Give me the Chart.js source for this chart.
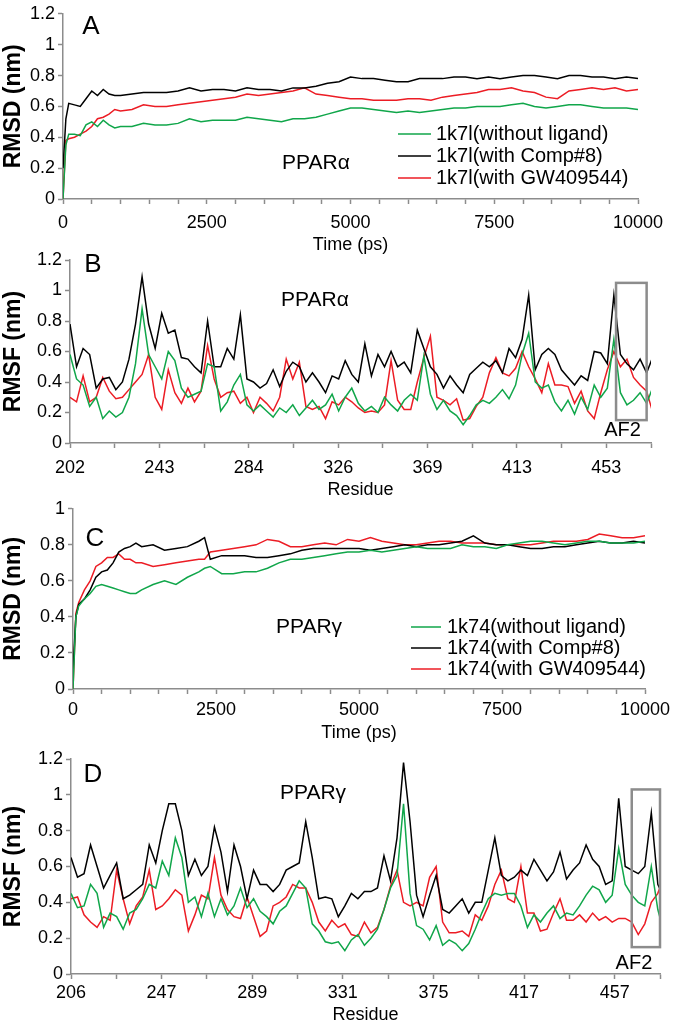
<!DOCTYPE html>
<html>
<head>
<meta charset="utf-8">
<script src="https://cdn.jsdelivr.net/npm/chart.js@4.4.0/dist/chart.umd.min.js"></script>
<style>
body { margin: 0; background: #fff; }
#wrap { position: relative; width: 683px; height: 1028px; }
canvas { position: absolute; left: 0; }
</style>
</head>
<body>
<div id="wrap">
<canvas id="chartA" width="683" height="256" style="top:0px"></canvas>
<canvas id="chartB" width="683" height="256" style="top:245px"></canvas>
<canvas id="chartC" width="683" height="249" style="top:495px"></canvas>
<canvas id="chartD" width="683" height="281" style="top:745px"></canvas>
</div>
<script>

// ==========================================
// Data
// ==========================================

const namesA = ["1k7l(without ligand)", "1k7l(with Comp#8)", "1k7l(with GW409544)"];
const namesC = ["1k74(without ligand)", "1k74(with Comp#8)", "1k74(with GW409544)"];

// RMSD PPARα (ps)
const timeA = [0,50,100,200,300,400,500,600,700,800,900,1000,
    1200,1400,1600,1800,2000,2200,2400,2600,2800,3000,3200,3400,3600,3800,4000,
    4200,4400,4600,4800,5000,5200,5400,5600,5800,6000,6200,6400,6600,6800,7000,
    7200,7400,7600,7800,8000,8200,8400,8600,8800,9000,9200,9400,9600,9800,10000];

const rmsdA_noLig = [0.00,0.35,0.42,0.42,0.41,0.48,0.50,0.47,0.51,0.48,0.46,0.47,
    0.47,0.49,0.48,0.48,0.49,0.52,0.50,0.51,0.51,0.51,0.53,0.52,0.51,0.50,0.52,
    0.52,0.53,0.55,0.57,0.59,0.59,0.58,0.57,0.56,0.57,0.56,0.57,0.58,0.59,0.59,
    0.60,0.60,0.60,0.61,0.62,0.60,0.59,0.60,0.61,0.61,0.60,0.59,0.59,0.59,0.58];

const rmsdA_comp8 = [0.20,0.52,0.62,0.61,0.60,0.65,0.70,0.67,0.71,0.68,0.67,0.67,
    0.68,0.69,0.69,0.69,0.70,0.72,0.70,0.71,0.71,0.70,0.72,0.71,0.71,0.70,0.72,
    0.72,0.73,0.75,0.76,0.79,0.78,0.78,0.77,0.76,0.76,0.78,0.78,0.78,0.79,0.79,
    0.78,0.79,0.78,0.79,0.80,0.80,0.79,0.78,0.80,0.80,0.79,0.79,0.78,0.79,0.78];

const rmsdA_gw = [0.00,0.38,0.39,0.40,0.42,0.44,0.47,0.52,0.53,0.55,0.58,0.57,
    0.58,0.61,0.60,0.60,0.61,0.62,0.63,0.64,0.65,0.66,0.68,0.67,0.68,0.69,0.70,
    0.72,0.68,0.67,0.66,0.65,0.65,0.64,0.64,0.64,0.65,0.65,0.64,0.66,0.67,0.68,
    0.69,0.71,0.71,0.72,0.70,0.69,0.66,0.65,0.70,0.71,0.72,0.71,0.72,0.70,0.71];

// RMSF PPARα, every 3rd residue from 202
const rmsfB_noLig = [0.58,0.42,0.38,0.24,0.30,0.16,0.21,0.17,0.20,0.30,
    0.52,0.88,0.58,0.50,0.42,0.60,0.54,0.36,0.30,0.32,
    0.34,0.52,0.50,0.21,0.27,0.38,0.45,0.25,0.21,0.25,
    0.21,0.17,0.23,0.20,0.25,0.18,0.23,0.28,0.22,0.25,
    0.32,0.21,0.30,0.36,0.26,0.21,0.24,0.20,0.30,0.25,
    0.21,0.28,0.32,0.28,0.57,0.32,0.22,0.28,0.21,0.18,
    0.12,0.18,0.25,0.28,0.26,0.30,0.35,0.29,0.38,0.58,
    0.72,0.40,0.36,0.38,0.27,0.21,0.28,0.19,0.30,0.22,
    0.38,0.30,0.36,0.68,0.33,0.25,0.28,0.33,0.26,0.37];

const rmsfB_comp8 = [0.78,0.50,0.62,0.58,0.36,0.42,0.43,0.35,0.40,0.55,
    0.78,1.09,0.78,0.62,0.85,0.72,0.74,0.56,0.55,0.50,
    0.46,0.80,0.50,0.50,0.62,0.55,0.84,0.42,0.40,0.36,
    0.39,0.48,0.37,0.47,0.53,0.50,0.40,0.46,0.40,0.33,
    0.44,0.42,0.54,0.45,0.40,0.65,0.44,0.58,0.50,0.60,
    0.50,0.53,0.46,0.74,0.62,0.50,0.45,0.36,0.44,0.38,
    0.33,0.45,0.49,0.53,0.50,0.54,0.46,0.62,0.56,0.68,
    0.97,0.48,0.58,0.62,0.58,0.48,0.43,0.38,0.44,0.41,
    0.60,0.59,0.52,0.97,0.58,0.52,0.48,0.55,0.46,0.57];

const rmsfB_gw = [0.30,0.27,0.44,0.27,0.30,0.43,0.34,0.29,0.30,0.35,
    0.40,0.45,0.58,0.30,0.22,0.48,0.33,0.26,0.36,0.27,
    0.34,0.64,0.42,0.30,0.33,0.34,0.26,0.30,0.20,0.30,
    0.26,0.21,0.30,0.55,0.42,0.53,0.24,0.22,0.24,0.16,
    0.27,0.25,0.30,0.27,0.23,0.20,0.21,0.20,0.25,0.54,
    0.28,0.22,0.22,0.40,0.56,0.70,0.30,0.28,0.25,0.29,
    0.15,0.16,0.24,0.30,0.46,0.56,0.46,0.44,0.49,0.60,
    0.50,0.42,0.33,0.52,0.38,0.38,0.37,0.26,0.34,0.21,
    0.16,0.33,0.48,0.60,0.50,0.55,0.43,0.38,0.34,0.19];

const residuesB = rmsfB_comp8.map((v, i) => 202 + 3 * i);
const labelsB = ["202", "", "243", "", "284", "", "326", "", "369", "", "413", "", "453", ""];

// RMSD PPARγ (ps)
const timeC = [0,50,100,200,300,400,500,600,700,800,900,1000,1100,1200,
    1400,1600,1800,2000,2200,2300,2400,
    2600,2800,3000,3200,3400,3600,3800,4000,4200,4400,4600,4800,5000,
    5200,5400,5600,5800,6000,6200,6400,6600,6800,7000,7200,7400,7600,7800,8000,
    8200,8400,8600,8800,9000,9200,9400,9600,9800,10000];

const rmsdC_noLig = [0.00,0.40,0.46,0.50,0.53,0.57,0.58,0.57,0.56,0.55,0.54,0.53,0.53,0.55,
    0.58,0.60,0.58,0.62,0.65,0.67,0.68,
    0.64,0.64,0.65,0.65,0.67,0.70,0.72,0.72,0.73,0.74,0.75,0.76,0.76,
    0.77,0.76,0.77,0.78,0.79,0.78,0.78,0.78,0.80,0.79,0.79,0.78,0.80,0.81,0.82,
    0.82,0.81,0.80,0.81,0.82,0.82,0.81,0.81,0.81,0.82];

const rmsdC_comp8 = [0.10,0.40,0.47,0.50,0.55,0.62,0.65,0.66,0.70,0.76,0.78,0.79,0.81,0.79,
    0.80,0.77,0.78,0.79,0.82,0.84,0.72,
    0.74,0.74,0.74,0.73,0.73,0.74,0.75,0.77,0.78,0.78,0.78,0.78,0.78,
    0.77,0.78,0.79,0.80,0.79,0.80,0.80,0.81,0.82,0.85,0.81,0.80,0.80,0.79,0.78,
    0.78,0.79,0.79,0.80,0.81,0.82,0.81,0.81,0.82,0.81];

const rmsdC_gw = [0.00,0.42,0.48,0.55,0.60,0.68,0.70,0.73,0.73,0.75,0.72,0.72,0.70,0.70,
    0.68,0.69,0.70,0.71,0.72,0.72,0.76,
    0.77,0.78,0.79,0.80,0.83,0.82,0.79,0.79,0.80,0.81,0.80,0.83,0.82,
    0.84,0.82,0.81,0.80,0.80,0.81,0.82,0.82,0.81,0.81,0.81,0.80,0.80,0.80,0.80,
    0.81,0.82,0.82,0.82,0.83,0.86,0.85,0.84,0.84,0.85];

// RMSF PPARγ, every 3rd residue from 206
const rmsfD_noLig = [0.45,0.37,0.38,0.50,0.45,0.26,0.34,0.32,0.25,0.34,
    0.36,0.42,0.50,0.48,0.63,0.55,0.76,0.65,0.40,0.43,
    0.32,0.45,0.32,0.42,0.33,0.38,0.48,0.37,0.42,0.35,
    0.32,0.28,0.35,0.38,0.45,0.52,0.48,0.28,0.24,0.18,
    0.17,0.18,0.13,0.19,0.22,0.16,0.20,0.25,0.36,0.48,
    0.55,0.95,0.45,0.27,0.25,0.19,0.27,0.16,0.19,0.17,
    0.13,0.17,0.25,0.34,0.42,0.45,0.44,0.45,0.45,0.38,
    0.26,0.33,0.29,0.34,0.38,0.31,0.34,0.33,0.38,0.44,
    0.49,0.47,0.40,0.44,0.70,0.50,0.44,0.40,0.38,0.60,
    0.36,0.22];

const rmsfD_comp8 = [0.65,0.54,0.56,0.72,0.60,0.48,0.55,0.62,0.42,0.44,
    0.47,0.50,0.72,0.62,0.80,0.95,0.95,0.80,0.55,0.64,
    0.55,0.60,0.82,0.68,0.46,0.72,0.60,0.42,0.58,0.50,
    0.50,0.46,0.50,0.58,0.60,0.62,0.85,0.65,0.42,0.43,
    0.42,0.32,0.38,0.45,0.42,0.46,0.46,0.48,0.66,0.52,
    0.76,1.18,0.85,0.44,0.32,0.44,0.55,0.36,0.34,0.38,
    0.42,0.34,0.40,0.40,0.58,0.76,0.55,0.52,0.54,0.58,
    0.55,0.64,0.58,0.52,0.57,0.68,0.53,0.58,0.62,0.72,
    0.64,0.60,0.50,0.52,0.98,0.60,0.58,0.56,0.60,0.90,
    0.50,0.42];

const rmsfD_gw = [0.42,0.43,0.33,0.29,0.26,0.32,0.30,0.58,0.42,0.28,
    0.38,0.43,0.58,0.36,0.38,0.42,0.47,0.44,0.24,0.33,
    0.44,0.42,0.65,0.44,0.36,0.32,0.31,0.43,0.32,0.21,
    0.24,0.38,0.40,0.43,0.50,0.48,0.48,0.40,0.29,0.24,
    0.30,0.26,0.28,0.22,0.21,0.29,0.23,0.26,0.36,0.49,
    0.58,0.40,0.38,0.40,0.38,0.54,0.60,0.29,0.23,0.23,
    0.24,0.21,0.33,0.30,0.38,0.50,0.58,0.42,0.40,0.60,
    0.34,0.34,0.24,0.25,0.34,0.42,0.30,0.30,0.33,0.29,
    0.34,0.30,0.32,0.29,0.31,0.31,0.29,0.22,0.28,0.40,
    0.45,0.55];

const residuesD = rmsfD_comp8.map((v, i) => 206 + 3 * i);
const labelsD = ["206", "", "247", "", "289", "", "331", "", "375", "", "417", "", "457", ""];


// ==========================================
// Style
// ==========================================

const GREEN = "#10a64a";
const BLACK = "#000000";
const RED = "#ec1c24";
const GRAY = "#8c8c8c";
const FONT = "'Liberation Sans', Arial, sans-serif";

Chart.defaults.font.family = FONT;
Chart.defaults.color = "#000";


// ==========================================
// Text, legend and AF2 box
// ==========================================

const notesPlugin = {
    id: "notes",
    afterDraw(chart, args, opts) {
        const ctx = chart.ctx;
        const top = opts.top || 0;
        ctx.save();
        ctx.fillStyle = "#000";
        ctx.textBaseline = "middle";

        (opts.texts || []).forEach(t => {
            ctx.font = t.font;
            ctx.textAlign = "center";
            ctx.fillText(t.text, t.x, t.y - top);
        });

        if (opts.legend) {
            const lg = opts.legend;
            chart.data.datasets.forEach((ds, i) => {
                const y = lg.rows[i] - top;
                ctx.strokeStyle = ds.borderColor;
                ctx.lineWidth = 1.5;
                ctx.beginPath();
                ctx.moveTo(lg.x1, y);
                ctx.lineTo(lg.x2, y);
                ctx.stroke();
                ctx.font = lg.font;
                ctx.textAlign = "left";
                ctx.fillText(ds.label, lg.tx, y);
            });
        }

        if (opts.box) {
            const b = opts.box;
            const xs = chart.scales.x;
            const ys = chart.scales.y;
            const x0 = xs.getPixelForValue(b.x0);
            const x1 = xs.getPixelForValue(b.x1);
            const y0 = ys.getPixelForValue(b.y1);
            const y1 = ys.getPixelForValue(b.y0);
            ctx.strokeStyle = GRAY;
            ctx.lineWidth = 2.5;
            ctx.strokeRect(x0, y0, x1 - x0, y1 - y0);
            ctx.font = "20px " + FONT;
            ctx.textAlign = "center";
            ctx.fillText(b.label, xs.getPixelForValue(b.lx), ys.getPixelForValue(b.ly));
        }
        ctx.restore();
    }
};


// ==========================================
// Chart builder
// ==========================================

function lineSet(label, xs, ys, color) {
    return {
        label: label,
        data: xs.map((x, i) => ({ x: x, y: ys[i] })),
        borderColor: color,
        borderWidth: 1.5,
        pointRadius: 0,
        tension: 0,
        fill: false
    };
}

function makePanel(id, cfg) {

    const xScale = {
        type: "linear",
        min: cfg.xMin,
        max: cfg.xMax,
        border: { display: true, color: GRAY, width: 1.5 },
        grid: { display: true, drawOnChartArea: false, tickLength: 5, tickColor: GRAY, tickWidth: 1.5 },
        ticks: {
            autoSkip: false,
            maxRotation: 0,
            padding: cfg.xPad,
            font: { size: 18 },
            color: "#000"
        },
        title: {
            display: true,
            text: cfg.xTitle,
            font: { size: 18 },
            padding: 0,
            color: "#000"
        },
        afterFit: s => { s.height = cfg.xHeight; }
    };

    if (cfg.xLabels) {
        xScale.afterBuildTicks = s => {
            const n = cfg.xLabels.length - 1;
            s.ticks = cfg.xLabels.map((l, k) => ({ value: cfg.xMin + (cfg.xMax - cfg.xMin) * k / n }));
        };
        xScale.ticks.callback = (v, i) => cfg.xLabels[i];
    } else {
        xScale.ticks.stepSize = 500;
        xScale.ticks.callback = v => (v % 2500 === 0 ? String(v) : "");
    }

    return new Chart(document.getElementById(id), {
        type: "line",
        data: { datasets: cfg.datasets },
        options: {
            responsive: false,
            animation: false,
            layout: { padding: { left: 0, top: cfg.padTop, right: cfg.padRight, bottom: 0 } },
            scales: {
                x: xScale,
                y: {
                    min: 0,
                    max: cfg.yMax,
                    border: { display: true, color: GRAY, width: 1.5 },
                    grid: { display: true, drawOnChartArea: false, tickLength: 5, tickColor: GRAY, tickWidth: 1.5 },
                    ticks: {
                        stepSize: 0.2,
                        padding: 3,
                        font: { size: 18 },
                        color: "#000",
                        callback: v => String(Math.round(v * 10) / 10)
                    },
                    title: {
                        display: true,
                        text: cfg.yTitle,
                        font: { size: 23, weight: "bold" },
                        padding: 0,
                        color: "#000"
                    },
                    afterFit: s => { s.width = cfg.yWidth; }
                }
            },
            plugins: {
                legend: { display: false },
                tooltip: { enabled: false },
                notes: cfg.notes
            }
        },
        plugins: [notesPlugin]
    });
}


// ==========================================
// Panels
// ==========================================

const LETTER = "26px " + FONT;
const NAME = "21px " + FONT;
const LEGEND = "20px " + FONT;

makePanel("chartA", {
    xMin: 0, xMax: 10000, yMax: 1.2,
    xTitle: "Time (ps)", yTitle: "RMSD (nm)",
    yWidth: 63, xHeight: 57, padTop: 13, padRight: 45, xPad: 8,
    datasets: [
        lineSet(namesA[0], timeA, rmsdA_noLig, GREEN),
        lineSet(namesA[1], timeA, rmsdA_comp8, BLACK),
        lineSet(namesA[2], timeA, rmsdA_gw, RED)
    ],
    notes: {
        top: 0,
        texts: [
            { text: "A", x: 91, y: 27, font: LETTER },
            { text: "PPARα", x: 316, y: 163, font: NAME }
        ],
        legend: { x1: 398, x2: 431, tx: 436, rows: [134, 156, 178], font: LEGEND }
    }
});

makePanel("chartB", {
    xMin: 202, xMax: 468, yMax: 1.2, xLabels: labelsB,
    xTitle: "Residue", yTitle: "RMSF (nm)",
    yWidth: 70, xHeight: 58, padTop: 15, padRight: 32, xPad: 9,
    datasets: [
        lineSet(namesA[0], residuesB, rmsfB_noLig, GREEN),
        lineSet(namesA[1], residuesB, rmsfB_comp8, BLACK),
        lineSet(namesA[2], residuesB, rmsfB_gw, RED)
    ],
    notes: {
        top: 245,
        texts: [
            { text: "B", x: 93, y: 265, font: LETTER },
            { text: "PPARα", x: 315, y: 300, font: NAME }
        ],
        box: { x0: 452, x1: 466, y0: 0.15, y1: 1.05, label: "AF2", lx: 455, ly: 0.08 }
    }
});

makePanel("chartC", {
    xMin: 0, xMax: 10000, yMax: 1,
    xTitle: "Time (ps)", yTitle: "RMSD (nm)",
    yWidth: 73, xHeight: 55, padTop: 13, padRight: 38, xPad: 5,
    datasets: [
        lineSet(namesC[0], timeC, rmsdC_noLig, GREEN),
        lineSet(namesC[1], timeC, rmsdC_comp8, BLACK),
        lineSet(namesC[2], timeC, rmsdC_gw, RED)
    ],
    notes: {
        top: 495,
        texts: [
            { text: "C", x: 95, y: 539, font: LETTER },
            { text: "PPARγ", x: 309, y: 627, font: NAME }
        ],
        legend: { x1: 411, x2: 441, tx: 447, rows: [627, 648, 669], font: LEGEND }
    }
});

makePanel("chartD", {
    xMin: 206, xMax: 477, yMax: 1.2, xLabels: labelsD,
    xTitle: "Residue", yTitle: "RMSF (nm)",
    yWidth: 71, xHeight: 52, padTop: 14, padRight: 23, xPad: 3,
    datasets: [
        lineSet(namesC[0], residuesD, rmsfD_noLig, GREEN),
        lineSet(namesC[1], residuesD, rmsfD_comp8, BLACK),
        lineSet(namesC[2], residuesD, rmsfD_gw, RED)
    ],
    notes: {
        top: 745,
        texts: [
            { text: "D", x: 93, y: 775, font: LETTER },
            { text: "PPARγ", x: 313, y: 793, font: NAME }
        ],
        box: { x0: 464, x1: 477, y0: 0.15, y1: 1.03, label: "AF2", lx: 465, ly: 0.06 }
    }
});

</script>
</body>
</html>
